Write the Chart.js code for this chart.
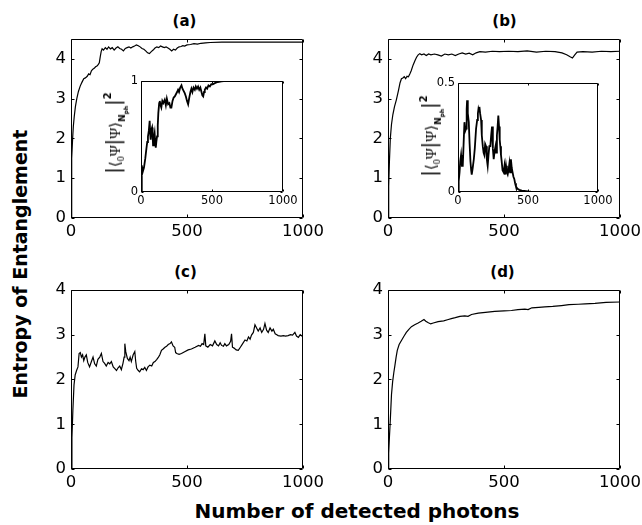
<!DOCTYPE html>
<html><head><meta charset="utf-8">
<script src="https://cdn.jsdelivr.net/npm/chart.js@4.4.0/dist/chart.umd.min.js"></script>
<style>
html,body{margin:0;padding:0;background:#fff;}
#fig{position:relative;width:642px;height:525px;overflow:hidden;background:#fff;}
canvas{position:absolute;}
.t{position:absolute;font-family:"DejaVu Sans",sans-serif;font-weight:bold;color:#000;white-space:nowrap;line-height:1;transform:translate(-50%,-50%);}
.rot{transform:translate(-50%,-50%) rotate(-90deg);}
.il{position:absolute;white-space:nowrap;line-height:1;color:#000;font-family:"Liberation Serif","DejaVu Serif",serif;font-size:15px;transform:translate(-50%,-50%) rotate(-90deg);}
.il .bar{font-family:"DejaVu Sans",sans-serif;font-size:19px;}
.il sub{font-size:10px;vertical-align:-4px;}
.il .n{font-family:"DejaVu Sans",sans-serif;font-weight:bold;font-size:9px;vertical-align:-5px;}
.il .ph{font-family:"DejaVu Sans",sans-serif;font-weight:bold;font-size:6px;vertical-align:-8px;}
.il sup{font-family:"DejaVu Sans",sans-serif;font-weight:bold;font-size:10px;vertical-align:9px;}
</style></head>
<body>
<div id="fig">
  <div class="t" style="left:184.5px;top:21px;font-size:15px;">(a)</div>
  <div class="t" style="left:504.5px;top:21px;font-size:15px;">(b)</div>
  <div class="t" style="left:185.5px;top:271.5px;font-size:15px;">(c)</div>
  <div class="t" style="left:502.5px;top:271.5px;font-size:15px;">(d)</div>
  <div class="t rot" style="left:20px;top:264px;font-size:19px;">Entropy of Entanglement</div>
  <div class="t" style="left:357px;top:511px;font-size:20px;">Number of detected photons</div>
</div>
<script>
// ---- tick values ----
const xTicks = [0, 500, 1000];
const yTicksMain = [0, 1, 2, 3, 4];
const yTicksInsetA = [0, 1];
const yTicksInsetB = [0, 0.5];

// ---- (a) main: entropy ----
const aX = [0,2,4,7,10,14,19,25,32,40,48,55,62,70,76,82,88,94,100,106,112,118,122,126,130,134,140,148,155,162,170,178,186,194,202,210,218,226,234,242,250,258,266,274,282,290,298,306,314,322,330,338,346,354,362,370,378,386,394,402,410,418,426,434,442,450,458,466,474,482,490,500,515,530,545,560,580,600,650,700,800,900,1000];
const aY = [0,0.9,1.5,2.0,2.3,2.55,2.8,3.0,3.18,3.32,3.42,3.5,3.52,3.56,3.62,3.6,3.7,3.74,3.76,3.8,3.82,3.86,3.9,4.05,4.18,4.25,4.22,4.28,4.24,4.3,4.25,4.28,4.22,4.27,4.3,4.26,4.24,4.2,4.26,4.28,4.3,4.27,4.3,4.32,4.35,4.33,4.3,4.26,4.24,4.2,4.15,4.13,4.18,4.22,4.27,4.3,4.28,4.32,4.3,4.28,4.3,4.27,4.24,4.2,4.24,4.22,4.27,4.3,4.31,4.33,4.32,4.35,4.36,4.38,4.37,4.39,4.4,4.41,4.42,4.42,4.42,4.42,4.42];

// ---- (a) inset: overlap ----
const aInX = [0,4,7,12,21,30,38,44,49,55,61,65,68,73,78,82,85,90,96,100,104,108,113,118,122,128,132,138,143,150,157,167,175,182,191,200,207,214,222,230,238,246,254,261,268,276,285,292,300,308,316,324,332,340,348,355,362,370,379,386,394,402,410,418,426,432,438,444,449,458,466,475,485,495,505,520,540,567,600,700,800,900,1000];
const aInY = [0,0.1,0.24,0.18,0.22,0.3,0.39,0.45,0.5,0.55,0.64,0.52,0.47,0.56,0.58,0.5,0.42,0.48,0.53,0.45,0.4,0.45,0.5,0.6,0.71,0.8,0.82,0.78,0.76,0.82,0.8,0.83,0.78,0.84,0.79,0.8,0.76,0.76,0.82,0.85,0.86,0.88,0.9,0.92,0.9,0.94,0.96,0.93,0.91,0.89,0.86,0.82,0.79,0.85,0.9,0.93,0.9,0.94,0.92,0.95,0.93,0.95,0.92,0.94,0.9,0.87,0.86,0.9,0.92,0.94,0.93,0.96,0.95,0.97,0.97,0.98,0.99,0.996,1.0,1.0,1.0,1.0,1.0];

// ---- (b) main: entropy ----
const bX = [0,3,6,10,15,21,28,36,45,52,58,64,70,76,82,88,94,100,108,116,123,130,137,145,155,165,175,185,200,215,230,245,260,275,290,305,320,335,350,365,380,396,420,450,480,520,560,600,640,680,720,750,770,785,795,805,815,840,880,920,960,1000];
const bY = [0,0.8,1.4,2.0,2.35,2.6,2.8,2.97,3.2,3.4,3.5,3.52,3.55,3.5,3.56,3.55,3.62,3.7,3.84,3.95,4.04,4.1,4.13,4.1,4.12,4.08,4.12,4.1,4.12,4.1,4.07,4.12,4.1,4.12,4.08,4.12,4.15,4.12,4.14,4.1,4.15,4.18,4.17,4.19,4.18,4.19,4.18,4.2,4.17,4.19,4.18,4.15,4.1,4.05,4.02,4.1,4.17,4.18,4.17,4.19,4.18,4.19];

// ---- (b) inset: overlap ----
const bInX = [0,5,11,16,22,28,34,40,46,52,58,62,65,70,77,83,89,94,98,105,113,120,129,137,142,146,150,153,158,165,170,177,183,188,194,200,206,212,218,224,231,237,243,249,255,262,268,272,278,283,288,293,298,302,307,312,318,326,332,338,343,349,355,361,367,372,378,384,390,396,402,408,414,425,438,455,473,500,521,600,700,800,1000];
const bInY = [0,0.05,0.09,0.14,0.17,0.12,0.12,0.22,0.32,0.28,0.29,0.38,0.42,0.36,0.32,0.22,0.14,0.1,0.08,0.11,0.15,0.2,0.29,0.33,0.36,0.38,0.37,0.39,0.36,0.33,0.26,0.21,0.18,0.17,0.22,0.21,0.15,0.12,0.17,0.21,0.21,0.26,0.3,0.2,0.15,0.19,0.21,0.18,0.26,0.3,0.35,0.3,0.24,0.21,0.17,0.14,0.1,0.09,0.12,0.08,0.12,0.09,0.08,0.1,0.13,0.09,0.15,0.11,0.09,0.07,0.06,0.04,0.025,0.015,0.01,0.006,0.005,0.003,0.002,0.001,0.001,0.001,0.001];

// ---- (c) main: entropy ----
const cX = [0,4,8,13,18,24,30,35,40,45,50,55,60,66,72,80,88,95,102,109,116,124,131,138,145,152,160,167,174,182,189,196,203,210,217,224,229,232,236,243,250,255,260,268,275,279,283,290,296,304,311,318,325,332,340,348,355,362,370,377,383,390,397,405,412,419,427,433,440,447,451,456,466,476,490,505,519,535,550,558,565,572,577,581,590,600,610,620,628,636,643,649,657,663,670,680,688,692,696,703,712,721,730,740,750,758,765,772,778,786,793,800,807,815,822,830,836,843,850,858,866,872,880,887,893,905,915,925,936,946,955,965,972,980,988,995,1000];
const cY = [0,0.7,1.3,1.88,2.1,2.2,2.28,2.58,2.6,2.5,2.55,2.42,2.5,2.55,2.38,2.28,2.4,2.5,2.35,2.3,2.45,2.5,2.58,2.4,2.36,2.3,2.38,2.35,2.4,2.28,2.24,2.2,2.26,2.3,2.22,2.36,2.5,2.8,2.62,2.47,2.42,2.5,2.4,2.55,2.62,2.4,2.25,2.2,2.17,2.24,2.22,2.27,2.2,2.28,2.32,2.3,2.38,2.4,2.45,2.5,2.55,2.65,2.68,2.72,2.74,2.78,2.8,2.84,2.75,2.72,2.6,2.58,2.56,2.58,2.62,2.66,2.68,2.72,2.76,2.74,2.8,2.78,3.02,2.75,2.72,2.78,2.75,2.86,2.78,2.75,2.82,2.76,2.74,2.8,2.75,2.78,2.85,3.02,2.72,2.7,2.66,2.65,2.72,2.8,2.88,2.86,2.95,2.9,2.99,3.05,3.22,3.15,3.08,3.15,3.05,3.12,3.25,3.1,3.05,3.15,3.08,3.12,3.02,3.0,2.98,2.97,2.98,2.97,2.98,3.0,2.99,3.05,2.97,2.94,3.0,2.97,2.96];

// ---- (d) main: entropy ----
const dX = [0,3,6,10,15,20,25,30,35,40,48,58,68,79,90,101,115,130,143,155,163,172,184,195,216,240,260,273,290,310,331,345,360,389,420,460,500,532,560,590,604,620,650,676,710,748,780,820,850,892,940,1000];
const dY = [0,0.35,0.7,1.1,1.66,1.95,2.15,2.32,2.5,2.65,2.78,2.87,2.96,3.05,3.12,3.18,3.22,3.26,3.3,3.34,3.3,3.27,3.24,3.26,3.29,3.31,3.34,3.36,3.38,3.41,3.42,3.41,3.45,3.48,3.5,3.52,3.53,3.54,3.56,3.57,3.56,3.6,3.61,3.62,3.63,3.65,3.67,3.68,3.69,3.7,3.72,3.73];

const fig = document.getElementById('fig');

function boxPlugin(tl) {
  return {
    id: 'matlabBox',
    afterDatasetsDraw(chart) {
      const ctx = chart.ctx, a = chart.chartArea, x = chart.scales.x, y = chart.scales.y;
      const L = Math.round(a.left) + 0.5, R = Math.round(a.right) - 0.5;
      const T = Math.round(a.top) + 0.5, B = Math.round(a.bottom) - 0.5;
      ctx.save();
      ctx.strokeStyle = '#000';
      ctx.lineWidth = 1;
      ctx.beginPath();
      ctx.rect(L, T, R - L, B - T);
      x.ticks.forEach(t => {
        const px = Math.round(x.getPixelForValue(t.value)) + 0.5;
        ctx.moveTo(px, B); ctx.lineTo(px, B - tl);
        ctx.moveTo(px, T); ctx.lineTo(px, T + tl);
      });
      y.ticks.forEach(t => {
        const py = Math.round(y.getPixelForValue(t.value)) + 0.5;
        ctx.moveTo(L, py); ctx.lineTo(L + tl, py);
        ctx.moveTo(R, py); ctx.lineTo(R - tl, py);
      });
      ctx.stroke();
      ctx.restore();
    }
  };
}

function makePanel(p) {
  const W = p.box.w + p.padL + p.padR, H = p.box.h + p.padT + p.padB;
  const cv = document.createElement('canvas');
  cv.width = W; cv.height = H;
  cv.style.left = (p.box.x - p.padL) + 'px';
  cv.style.top = (p.box.y - p.padT) + 'px';
  cv.style.width = W + 'px'; cv.style.height = H + 'px';
  fig.appendChild(cv);
  const font = { family: 'DejaVu Sans', size: p.fs };
  new Chart(cv, {
    type: 'line',
    data: { datasets: [{ data: p.xs.map((v, i) => ({ x: v, y: p.ys[i] })), borderColor: '#000', borderWidth: p.lw, pointRadius: 0, tension: 0, fill: false }] },
    options: {
      responsive: false, animation: false, devicePixelRatio: 1,
      layout: { padding: { left: 0, top: p.padT, right: p.padR, bottom: 0 } },
      plugins: { legend: { display: false }, tooltip: { enabled: false }, title: { display: false } },
      scales: {
        x: {
          type: 'linear', min: 0, max: 1000,
          afterBuildTicks: s => { s.ticks = xTicks.map(v => ({ value: v })); },
          afterFit: s => { s.height = p.padB; },
          grid: { display: false, drawTicks: false }, border: { display: false },
          ticks: { color: '#000', font: font, padding: p.xpad, maxRotation: 0, autoSkip: false, callback: v => String(v) }
        },
        y: {
          type: 'linear', min: 0, max: p.yMax,
          afterBuildTicks: s => { s.ticks = p.yTicks.map(v => ({ value: v })); },
          afterFit: s => { s.width = p.padL; },
          grid: { display: false, drawTicks: false }, border: { display: false },
          ticks: { color: '#000', font: font, padding: p.ypad, autoSkip: false, callback: v => String(v) }
        }
      }
    },
    plugins: [boxPlugin(p.tl)]
  });
}

const mainOpts = { padL: 40, padR: 32, padT: 12, padB: 28, fs: 16.5, lw: 1.2, tl: 3, xpad: 4, ypad: 5, yTicks: yTicksMain };
makePanel(Object.assign({}, mainOpts, { box: { x: 71, y: 36, w: 232, h: 182 }, xs: aX, ys: aY, yMax: 4.5 }));
makePanel(Object.assign({}, mainOpts, { box: { x: 388, y: 36, w: 232, h: 182 }, xs: bX, ys: bY, yMax: 4.5 }));
makePanel(Object.assign({}, mainOpts, { box: { x: 71, y: 287, w: 232, h: 182 }, xs: cX, ys: cY, yMax: 4 }));
makePanel(Object.assign({}, mainOpts, { box: { x: 388, y: 287, w: 232, h: 182 }, xs: dX, ys: dY, yMax: 4 }));

const insetOpts = { padL: 30, padR: 20, padT: 8, padB: 18, fs: 11.5, lw: 1.8, tl: 2, xpad: 2, ypad: 3 };
makePanel(Object.assign({}, insetOpts, { box: { x: 141, y: 79, w: 142, h: 113 }, xs: aInX, ys: aInY, yMax: 1, yTicks: yTicksInsetA }));
makePanel(Object.assign({}, insetOpts, { box: { x: 458, y: 81, w: 140, h: 111 }, xs: bInX, ys: bInY, yMax: 0.5, yTicks: yTicksInsetB }));

// inset y-axis labels (real text)
function insetLabel(cx, cy) {
  const d = document.createElement('div');
  d.className = 'il';
  d.style.left = cx + 'px'; d.style.top = cy + 'px';
  d.innerHTML = '<span class="bar">|</span>\u27E8<sub>0</sub>\u03A8<span class="bar">|</span>\u03A8\u27E9<span class="n">N</span><span class="ph">ph</span><span class="bar">|</span><sup>2</sup>';
  fig.appendChild(d);
}
insetLabel(116, 133);
insetLabel(432, 136);
</script>
</body></html>
